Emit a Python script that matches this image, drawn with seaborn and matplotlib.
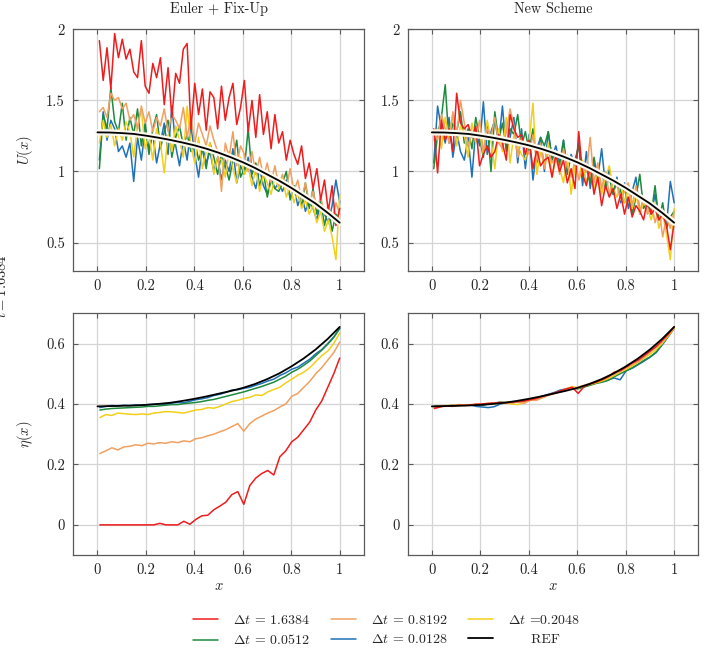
import numpy as np
import matplotlib
matplotlib.use('Agg')
import matplotlib.pyplot as plt
import matplotlib.patheffects as pe
from matplotlib.lines import Line2D
import seaborn as sns

# =========================
# DATA
# =========================

SERIES = ['1.6384', '0.8192', '0.2048', '0.0512', '0.0128']
COLORS = {
    '1.6384': '#ee1c1c',
    '0.8192': '#f0a060',
    '0.2048': '#f2cf1a',
    '0.0512': '#1e8a3e',
    '0.0128': '#1f72b8',
}

x_ref = np.arange(0, 1.0001, 0.05)
u_ref = [1.275, 1.274, 1.270, 1.264, 1.252, 1.238, 1.222, 1.204, 1.184, 1.160, 1.132,
         1.100, 1.065, 1.025, 0.980, 0.935, 0.885, 0.830, 0.775, 0.710, 0.640]
eta_ref = [0.392, 0.393, 0.394, 0.395, 0.397, 0.400, 0.404, 0.410, 0.417, 0.425, 0.434,
           0.443, 0.453, 0.466, 0.482, 0.501, 0.524, 0.550, 0.580, 0.615, 0.655]

x_u = np.linspace(0.008, 1.0, 64)

u_euler = {
    '1.6384': [1.92, 1.64, 1.87, 1.58, 1.97, 1.80, 1.93, 1.79,
               1.86, 1.70, 1.66, 1.92, 1.60, 1.55, 1.76, 1.66,
               1.80, 1.47, 1.73, 1.38, 1.69, 1.62, 1.86, 1.90,
               1.30, 1.62, 1.40, 1.58, 1.29, 1.56, 1.52, 1.30,
               1.60, 1.36, 1.52, 1.62, 1.33, 1.45, 1.64, 1.28,
               1.50, 1.24, 1.54, 1.26, 1.42, 1.16, 1.40, 1.20,
               1.28, 1.08, 1.22, 1.12, 1.05, 1.18, 0.95, 1.06,
               0.88, 1.02, 0.80, 0.94, 0.72, 0.90, 0.62, 0.74],
    '0.8192': [1.42, 1.45, 1.38, 1.55, 1.50, 1.52, 1.44, 1.48,
               1.36, 1.40, 1.30, 1.46, 1.34, 1.42, 1.28, 1.38,
               1.32, 1.44, 1.28, 1.40, 1.36, 1.30, 1.45, 1.24,
               1.38, 1.20, 1.34, 1.26, 1.18, 1.32, 1.22, 1.14,
               0.86, 1.20, 1.10, 1.28, 1.04, 1.18, 1.12, 1.00,
               1.14, 0.98, 1.10, 0.96, 1.06, 0.92, 1.04, 0.90,
               0.98, 0.88, 1.02, 0.86, 0.94, 0.80, 0.92, 0.78,
               0.86, 0.74, 0.82, 0.70, 0.76, 0.66, 0.78, 0.70],
    '0.2048': [1.20, 1.36, 1.24, 1.33, 1.18, 1.30, 1.22, 1.35,
               1.28, 1.10, 1.32, 1.44, 1.16, 1.26, 1.08, 1.30,
               1.20, 0.99, 1.26, 1.14, 1.32, 1.22, 1.10, 1.46,
               1.18, 1.06, 1.24, 1.02, 1.14, 1.20, 0.98, 1.10,
               1.08, 0.96, 1.14, 1.02, 0.92, 1.10, 0.98, 1.04,
               0.90, 1.02, 0.86, 0.98, 0.92, 0.84, 0.96, 0.88,
               0.95, 0.82, 0.90, 0.78, 0.86, 0.74, 0.80, 0.70,
               0.76, 0.64, 0.72, 0.58, 0.66, 0.54, 0.38, 0.84],
    '0.0512': [1.02, 1.40, 1.30, 1.59, 1.35, 1.28, 1.48, 1.22,
               1.38, 1.26, 1.44, 1.18, 1.34, 1.12, 1.30, 1.40,
               1.16, 1.28, 1.36, 1.10, 1.24, 1.32, 1.18, 1.26,
               1.14, 1.22, 1.08, 1.16, 1.02, 1.20, 1.10, 0.98,
               1.12, 1.04, 0.94, 1.08, 1.22, 0.96, 1.02, 1.30,
               0.98, 1.06, 0.90, 1.00, 0.82, 0.94, 0.88, 0.86,
               0.92, 1.00, 0.80, 0.90, 0.84, 0.76, 0.92, 0.74,
               0.88, 0.70, 0.80, 0.62, 0.75, 0.58, 0.70, 0.66],
    '0.0128': [1.08, 1.42, 1.22, 1.36, 1.30, 1.14, 1.18, 1.10,
               1.20, 0.93, 1.24, 1.08, 1.30, 1.16, 1.26, 1.06,
               1.20, 1.34, 1.12, 1.46, 1.18, 1.04, 1.22, 1.08,
               1.32, 1.12, 0.96, 1.18, 1.06, 1.14, 1.00, 1.10,
               0.94, 1.08, 1.00, 1.16, 0.92, 1.04, 0.98, 1.10,
               0.96, 0.88, 1.02, 0.90, 0.84, 0.96, 0.88, 0.92,
               0.86, 0.94, 0.82, 0.90, 0.76, 0.84, 0.72, 0.80,
               0.74, 0.66, 0.78, 0.70, 0.64, 0.76, 0.94, 0.78],
}

u_new = {
    '1.6384': [1.30, 0.99, 1.36, 1.22, 1.30, 1.14, 1.55, 1.34,
               1.30, 1.33, 1.24, 1.32, 1.04, 1.12, 1.18, 1.10,
               1.14, 1.26, 1.20, 1.08, 1.40, 1.30, 1.24, 1.26,
               1.12, 1.22, 1.02, 1.16, 1.04, 1.08, 1.10, 0.96,
               1.12, 1.00, 1.08, 0.92, 1.02, 0.88, 1.28, 0.98,
               0.90, 1.04, 0.84, 0.96, 0.76, 0.90, 0.82, 0.88,
               0.74, 0.84, 0.70, 0.82, 0.68, 0.76, 0.72, 0.66,
               0.80, 0.70, 0.74, 0.66, 0.70, 0.62, 0.45, 0.64],
    '0.8192': [1.28, 1.22, 1.40, 1.30, 1.20, 1.42, 1.26, 1.50,
               1.34, 1.18, 1.28, 1.22, 1.36, 1.14, 1.30, 1.24,
               1.38, 1.20, 1.16, 1.28, 1.44, 1.32, 1.10, 1.24,
               1.18, 1.12, 1.26, 1.08, 1.20, 1.02, 1.14, 1.06,
               1.10, 0.98, 1.16, 1.04, 0.96, 1.08, 0.94, 1.02,
               1.00, 1.24, 0.92, 1.06, 0.88, 1.00, 0.84, 0.94,
               0.90, 0.80, 0.86, 0.92, 0.76, 0.90, 0.72, 0.82,
               0.70, 0.78, 0.64, 0.74, 0.54, 0.68, 0.60, 0.72],
    '0.2048': [1.22, 1.30, 1.16, 1.38, 1.24, 1.40, 1.18, 1.32,
               1.26, 1.10, 1.34, 1.20, 1.28, 1.12, 1.36, 1.22,
               1.02, 1.30, 1.14, 1.38, 1.06, 1.26, 1.18, 1.12,
               1.08, 1.22, 1.48, 0.98, 1.14, 1.04, 1.20, 0.96,
               1.10, 1.02, 0.92, 1.12, 0.84, 1.04, 0.96, 1.08,
               0.92, 1.02, 0.88, 0.98, 0.84, 0.96, 1.04, 0.88,
               0.82, 0.92, 0.78, 0.88, 0.74, 0.84, 0.70, 0.78,
               0.74, 0.66, 0.78, 0.60, 0.70, 0.56, 0.38, 0.74],
    '0.0512': [1.02, 1.26, 1.38, 1.61, 1.20, 1.34, 1.28, 1.42,
               1.20, 1.30, 1.16, 1.38, 1.24, 1.10, 1.32, 1.00,
               1.42, 1.22, 1.34, 1.16, 1.30, 1.26, 1.40, 1.18,
               1.28, 1.14, 1.30, 1.06, 1.24, 1.18, 1.28, 1.08,
               1.14, 1.02, 1.22, 1.00, 1.10, 1.08, 1.18, 0.96,
               1.02, 0.92, 1.10, 0.94, 1.00, 0.88, 0.96, 0.84,
               0.94, 0.86, 0.78, 0.90, 0.70, 0.82, 0.98, 0.74,
               0.80, 0.70, 0.90, 0.66, 0.78, 0.60, 0.68, 0.72],
    '0.0128': [1.06, 1.46, 1.30, 1.20, 1.38, 1.10, 1.28, 1.14,
               1.08, 1.24, 0.96, 1.30, 1.18, 1.49, 1.12, 1.28,
               1.36, 1.20, 1.46, 1.14, 1.24, 1.38, 1.06, 1.30,
               1.02, 1.26, 0.94, 1.16, 1.24, 1.00, 1.28, 1.10,
               1.18, 1.06, 1.22, 0.98, 1.12, 1.04, 1.20, 0.90,
               1.14, 0.88, 1.06, 0.96, 1.16, 0.90, 1.02, 0.84,
               0.96, 0.78, 0.92, 0.74, 0.86, 0.96, 0.70, 0.80,
               0.76, 0.70, 0.84, 0.66, 0.72, 0.62, 0.93, 0.78],
}

x_eta = np.linspace(0.01, 1.0, 41)

eta_euler = {
    '1.6384': [0, 0, 0, 0, 0, 0, 0, 0, 0, 0, 0.005, 0, 0, 0, 0.012, 0.002,
               0.018, 0.030, 0.032, 0.050, 0.062, 0.075, 0.100, 0.110, 0.068,
               0.130, 0.155, 0.170, 0.180, 0.165, 0.225, 0.245, 0.275, 0.290,
               0.315, 0.340, 0.380, 0.410, 0.455, 0.500, 0.552],
    '0.8192': [0.236, 0.245, 0.255, 0.248, 0.258, 0.260, 0.265, 0.262, 0.270,
               0.268, 0.272, 0.270, 0.275, 0.272, 0.278, 0.275, 0.285, 0.288,
               0.295, 0.300, 0.308, 0.315, 0.325, 0.335, 0.310, 0.335, 0.350,
               0.360, 0.370, 0.378, 0.390, 0.400, 0.425, 0.435, 0.455, 0.475,
               0.500, 0.520, 0.545, 0.570, 0.605],
    '0.2048': [0.355, 0.365, 0.362, 0.370, 0.368, 0.366, 0.365, 0.367, 0.365,
               0.370, 0.372, 0.375, 0.374, 0.372, 0.370, 0.375, 0.380, 0.382,
               0.388, 0.386, 0.392, 0.400, 0.408, 0.412, 0.418, 0.422, 0.430,
               0.428, 0.440, 0.448, 0.455, 0.470, 0.482, 0.495, 0.505, 0.520,
               0.540, 0.560, 0.575, 0.600, 0.635],
    '0.0512': [0.380, 0.383, 0.385, 0.386, 0.387, 0.388, 0.389, 0.390, 0.392,
               0.392, 0.394, 0.396, 0.398, 0.398, 0.401, 0.403, 0.405, 0.408,
               0.412, 0.415, 0.420, 0.425, 0.430, 0.435, 0.440, 0.446, 0.452,
               0.458, 0.465, 0.472, 0.482, 0.492, 0.505, 0.515, 0.528, 0.542,
               0.560, 0.578, 0.598, 0.620, 0.650],
    '0.0128': [0.388, 0.392, 0.395, 0.393, 0.396, 0.394, 0.397, 0.395, 0.398,
               0.399, 0.401, 0.398, 0.403, 0.405, 0.404, 0.409, 0.414, 0.417,
               0.421, 0.428, 0.432, 0.438, 0.446, 0.447, 0.452, 0.455, 0.462,
               0.468, 0.476, 0.482, 0.494, 0.503, 0.515, 0.522, 0.535, 0.548,
               0.566, 0.580, 0.600, 0.622, 0.650],
}

eta_new = {
    '1.6384': [0.385, 0.390, 0.394, 0.392, 0.396, 0.395, 0.397, 0.399, 0.400,
               0.402, 0.403, 0.405, 0.404, 0.406, 0.408, 0.410, 0.414, 0.418,
               0.425, 0.430, 0.436, 0.443, 0.450, 0.455, 0.435, 0.458, 0.466,
               0.472, 0.480, 0.490, 0.505, 0.510, 0.522, 0.535, 0.545, 0.560,
               0.575, 0.590, 0.610, 0.630, 0.655],
    '0.8192': [0.390, 0.393, 0.392, 0.396, 0.394, 0.397, 0.396, 0.400, 0.398,
               0.401, 0.403, 0.402, 0.405, 0.404, 0.407, 0.402, 0.413, 0.412,
               0.420, 0.428, 0.434, 0.440, 0.447, 0.452, 0.456, 0.462, 0.468,
               0.474, 0.480, 0.488, 0.498, 0.508, 0.520, 0.530, 0.540, 0.555,
               0.572, 0.588, 0.605, 0.628, 0.652],
    '0.2048': [0.390, 0.392, 0.395, 0.394, 0.397, 0.396, 0.398, 0.397, 0.400,
               0.402, 0.400, 0.404, 0.403, 0.400, 0.398, 0.405, 0.412, 0.418,
               0.422, 0.430, 0.435, 0.442, 0.450, 0.458, 0.452, 0.460, 0.465,
               0.470, 0.476, 0.484, 0.494, 0.506, 0.515, 0.526, 0.538, 0.552,
               0.565, 0.580, 0.600, 0.625, 0.650],
    '0.0512': [0.392, 0.394, 0.393, 0.396, 0.395, 0.397, 0.396, 0.398, 0.395,
               0.400, 0.403, 0.406, 0.405, 0.404, 0.408, 0.410, 0.415, 0.418,
               0.424, 0.430, 0.436, 0.442, 0.448, 0.452, 0.450, 0.456, 0.462,
               0.468, 0.472, 0.478, 0.490, 0.500, 0.510, 0.520, 0.532, 0.545,
               0.556, 0.572, 0.598, 0.625, 0.652],
    '0.0128': [0.390, 0.392, 0.394, 0.393, 0.395, 0.396, 0.397, 0.392, 0.390,
               0.388, 0.391, 0.400, 0.404, 0.405, 0.407, 0.410, 0.416, 0.418,
               0.426, 0.432, 0.438, 0.446, 0.450, 0.454, 0.452, 0.458, 0.464,
               0.470, 0.474, 0.480, 0.486, 0.480, 0.510, 0.518, 0.530, 0.542,
               0.555, 0.570, 0.595, 0.622, 0.650],
}

# =========================
# STYLE
# =========================

sns.set_theme(style='whitegrid')
plt.rcParams['font.family'] = ['cmr10', 'DejaVu Serif']
plt.rcParams['mathtext.fontset'] = 'cm'
plt.rcParams['axes.formatter.use_mathtext'] = True
plt.rcParams['font.size'] = 10.5

GRID = '#d4d4d4'
FRAME = '#5a5a5a'

fig = plt.figure(figsize=(7.04, 6.5), dpi=100)
boxes = [
    [0.104, 0.583, 0.413, 0.372],
    [0.579, 0.583, 0.413, 0.372],
    [0.104, 0.146, 0.413, 0.372],
    [0.579, 0.146, 0.413, 0.372],
]
axes = [fig.add_axes(b) for b in boxes]

panels = [
    (axes[0], x_u, u_euler, x_ref, u_ref, True),
    (axes[1], x_u, u_new, x_ref, u_ref, True),
    (axes[2], x_eta, eta_euler, x_ref, eta_ref, False),
    (axes[3], x_eta, eta_new, x_ref, eta_ref, False),
]

draw_order = ['0.0128', '0.0512', '0.2048', '0.8192', '1.6384']

for ax, xs, data, xr, yr, halo in panels:
    for key in draw_order:
        sns.lineplot(x=xs, y=data[key], ax=ax, color=COLORS[key], lw=1.1,
                     legend=False, estimator=None)
    effects = [pe.Stroke(linewidth=4.5, foreground='#fbf8ee'), pe.Normal()] if halo else None
    sns.lineplot(x=xr, y=yr, ax=ax, color='black', lw=1.3, legend=False,
                 estimator=None, path_effects=effects)

for ax in axes:
    ax.set_xlim(-0.1, 1.1)
    ax.set_xticks([0, 0.2, 0.4, 0.6, 0.8, 1])
    ax.set_xticklabels(['0', '0.2', '0.4', '0.6', '0.8', '1'])
    ax.grid(True, color=GRID, lw=0.9)
    for s in ax.spines.values():
        s.set_color(FRAME)
        s.set_linewidth(0.9)
    ax.tick_params(direction='in', length=3.5, width=0.8, color=FRAME,
                   top=True, right=True, bottom=True, left=True,
                   labelsize=10.5, labelcolor='#222222', pad=6)
    ax.set_xlabel('')
    ax.set_ylabel('')

for ax in axes[:2]:
    ax.set_ylim(0.3, 2.0)
    ax.set_yticks([0.5, 1, 1.5, 2])
    ax.set_yticklabels(['0.5', '1', '1.5', '2'])
for ax in axes[2:]:
    ax.set_ylim(-0.1, 0.7)
    ax.set_yticks([0, 0.2, 0.4, 0.6])
    ax.set_yticklabels(['0', '0.2', '0.4', '0.6'])
    ax.set_xlabel(r'$x$', fontsize=10.5, labelpad=1.5)

axes[0].set_title('Euler + Fix-Up', fontsize=10.3, pad=11.5)
axes[1].set_title('New Scheme', fontsize=10.3, pad=11.5)
axes[0].set_ylabel(r'$U(x)$', fontsize=10.5, labelpad=8)
axes[2].set_ylabel(r'$\eta(x)$', fontsize=10.5, labelpad=8)

fig.text(0.002, 0.56, r'$t = 1.6384$', rotation=90, ha='center', va='center',
         fontsize=10.5)

# =========================
# LEGEND
# =========================

labels = {
    '1.6384': r'$\Delta t$ = 1.6384',
    '0.8192': r'$\Delta t$ = 0.8192',
    '0.2048': r'$\Delta t$ =0.2048',
    '0.0512': r'$\Delta t$ = 0.0512',
    '0.0128': r'$\Delta t$ = 0.0128',
}
handles = {k: Line2D([], [], color=COLORS[k], lw=1.1) for k in SERIES}
handles['REF'] = Line2D([], [], color='black', lw=1.3)
labels['REF'] = '     REF'
order = ['1.6384', '0.0512', '0.8192', '0.0128', '0.2048', 'REF']
fig.legend([handles[k] for k in order], [labels[k] for k in order],
           ncol=3, loc='center', bbox_to_anchor=(0.549, 0.030), frameon=False,
           fontsize=10, handlelength=1.8, handletextpad=1.08,
           columnspacing=1.5, labelspacing=0.5, borderpad=0.2)

fig.savefig('out.png', dpi=100)
